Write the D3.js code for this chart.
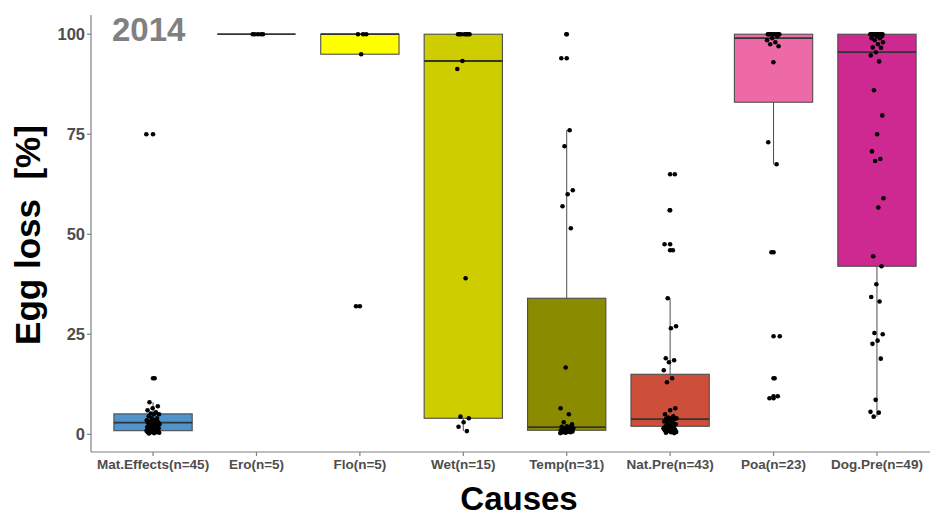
<!DOCTYPE html>
<html><head><meta charset="utf-8">
<script src="https://cdn.jsdelivr.net/npm/d3@7"></script>
<style>body{margin:0;background:#fff}svg{display:block}text{font-family:"Liberation Sans",Arial,sans-serif}</style>
</head><body><svg id="c" width="930" height="518"></svg>
<script>
const categories = ["Mat.Effects(n=45)","Ero(n=5)","Flo(n=5)","Wet(n=15)","Temp(n=31)","Nat.Pre(n=43)","Poa(n=23)","Dog.Pre(n=49)"];
const fills = ["#4F94CD","#8B8B83","#FFFF00","#CDCD00","#8B8B00","#CD4F39","#EE6AA7","#CD2990"];
const yTicks = [0,25,50,75,100];
// box statistics: q1, median, q3, lower whisker, upper whisker
const q1     = [0.9, 100, 95, 4, 1, 2, 83, 42];
const median = [2.9, 100, 100, 93.3, 1.8, 3.8, 99, 95.5];
const q3     = [5.1, 100, 100, 100, 34, 15, 100, 100];
const whLo   = [0.2, 100, 95, 0.8, 0.3, 0.3, 67.5, 4.4];
const whHi   = [8, 100, 100, 100, 76, 34, 100, 100];
// observations per cause
const matEffects = [75,14,8,7,6.5,6,5.5,5.2,5,5,4.5,4,4,3.5,3.5,3.2,3,3,2.9,2.9,2.8,2.5,2.5,2.2,2,2,1.8,1.5,1.5,1.5,1.2,1,1,1,0.9,0.9,0.8,0.7,0.6,0.5,0.5,0.5,0.4,0.3,0.2];
const ero = [100,100,100,100,100];
const flo = [100,100,100,95,32];
const wet = [100,100,100,100,100,100,100,93.3,91.3,39,4.4,4,3,1.9,0.8];
const temp = [100,94,76,72,61,60,57,51.5,16.7,6.5,5,3,2.5,2,1.9,1.8,1.5,1.5,1.2,1.2,1,1,1,0.9,0.8,0.7,0.6,0.5,0.5,0.4,0.3];
const natPre = [65,56,47.5,46,34,27,26.5,19,18.5,18,16,14,13,6.5,6,5,4.5,4.2,4,4,3.9,3.8,3.5,3.2,3,2.8,2.5,2.3,2,2,1.8,1.5,1.5,1.2,1.2,1,1,0.9,0.8,0.6,0.5,0.4,0.3];
const poa = [100,100,100,100,100,100,100,100,100,99.5,99,98.5,98,97.5,97,93,73,67.5,45.5,24.5,14,9,9.5];
const dogPre = [100,100,100,100,100,100,100,100,100,100,100,100,100,100,100,99.5,99.5,99,99,98.5,98,97.5,96.7,96.6,95.5,94.7,93.2,86,79.7,75,70.7,68.8,68.3,59,56.7,44.5,42,37.5,34.3,33.2,25.3,25,23.4,22.6,18.9,8.6,5.6,5.4,4.4];
const values = [matEffects, ero, flo, wet, temp, natPre, poa, dogPre];

(function(){
const svg = d3.select("#c");
const pL = 91, pR = 939, pT = 15, pB = 452;
// ggplot discrete expansion: 0.6 units each side
const x = d3.scalePoint().domain(categories).range([pL, pR]).padding(0.6);
const step = x.step();
const y = d3.scaleLinear().domain([-4.43, 104.8]).range([pB, pT]);
const bw = step * 0.757;

const g = svg.append("g");
categories.forEach((c, i) => {
  const cx = x(c);
  g.append("line").attr("x1", cx).attr("x2", cx).attr("y1", y(q3[i])).attr("y2", y(whHi[i])).attr("stroke", "#4d4d4d").attr("stroke-width", 1);
  g.append("line").attr("x1", cx).attr("x2", cx).attr("y1", y(q1[i])).attr("y2", y(whLo[i])).attr("stroke", "#4d4d4d").attr("stroke-width", 1);
  g.append("rect").attr("x", cx - bw/2).attr("width", bw)
    .attr("y", y(q3[i])).attr("height", Math.max(0, y(q1[i]) - y(q3[i])))
    .attr("fill", fills[i]).attr("stroke", "#4d4d4d").attr("stroke-width", 1.1);
  g.append("line").attr("x1", cx - bw/2).attr("x2", cx + bw/2).attr("y1", y(median[i])).attr("y2", y(median[i]))
    .attr("stroke", "#333333").attr("stroke-width", 1.8);
  values[i].filter(v => v < whLo[i] - 1e-9 || v > whHi[i] + 1e-9).forEach(v => {
    g.append("circle").attr("cx", cx).attr("cy", y(v)).attr("r", 2.3).attr("fill", "#000");
  });
  values[i].forEach((v, k) => {
    const off = (((k * 0.6180339887 + i * 0.37) % 1) - 0.5) * 2 * step * 0.065;
    g.append("circle").attr("cx", cx + off).attr("cy", y(v)).attr("r", 2.3).attr("fill", "#000");
  });
});

const axCol = "#808080";
svg.append("line").attr("x1", pL).attr("x2", 930).attr("y1", pB).attr("y2", pB).attr("stroke", axCol).attr("stroke-width", 1.2);
svg.append("line").attr("x1", pL).attr("x2", pL).attr("y1", pT).attr("y2", pB).attr("stroke", axCol).attr("stroke-width", 1.2);
yTicks.forEach(t => {
  svg.append("line").attr("x1", pL - 4).attr("x2", pL).attr("y1", y(t)).attr("y2", y(t)).attr("stroke", axCol).attr("stroke-width", 1.2);
  svg.append("text").attr("x", pL - 6).attr("y", y(t)).attr("dy", "0.36em").attr("text-anchor", "end")
    .attr("font-size", 16.5).attr("font-weight", "bold").attr("fill", "#4d4d4d").text(t);
});
categories.forEach(c => {
  const cx = x(c);
  svg.append("line").attr("x1", cx).attr("x2", cx).attr("y1", pB).attr("y2", pB + 4).attr("stroke", axCol).attr("stroke-width", 1.2);
  svg.append("text").attr("x", cx).attr("y", 469).attr("text-anchor", "middle")
    .attr("font-size", 13.5).attr("font-weight", "bold").attr("fill", "#4d4d4d").text(c);
});

svg.append("text").attr("x", 519).attr("y", 510).attr("text-anchor", "middle")
  .attr("font-size", 33).attr("font-weight", "bold").attr("fill", "#000").text("Causes");
svg.append("text").attr("transform", "translate(40,235) rotate(-90)").attr("text-anchor", "middle")
  .attr("font-size", 35).attr("font-weight", "bold").attr("fill", "#000").style("white-space", "pre").text("Egg loss  [%]");
svg.append("text").attr("x", 112).attr("y", 41).attr("font-size", 33).attr("font-weight", "bold").attr("fill", "#808080").text("2014");
})();
</script></body></html>
